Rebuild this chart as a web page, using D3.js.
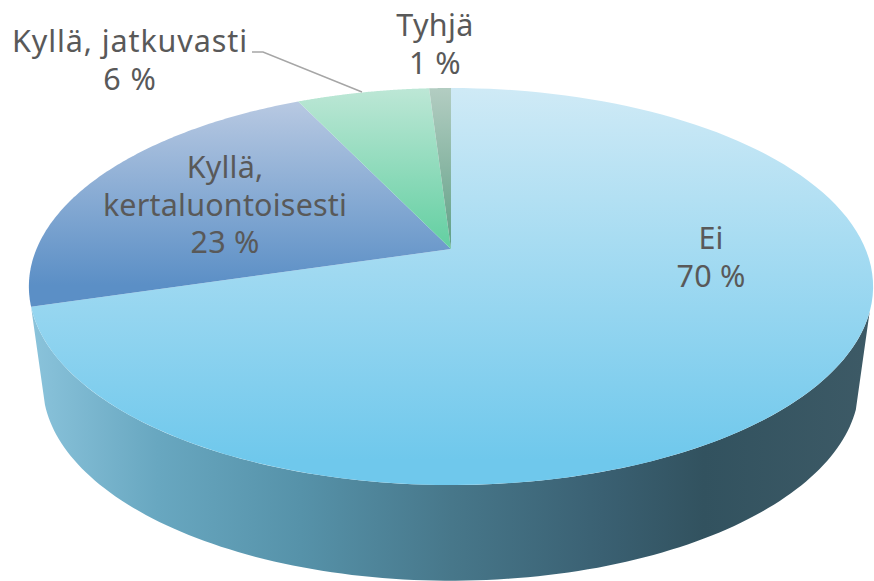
<!DOCTYPE html>
<html>
<head>
<meta charset="utf-8">
<script src="https://cdn.jsdelivr.net/npm/d3@7"></script>
<style>
  html, body { margin: 0; padding: 0; background: #fff; overflow: hidden; }
  text { font-family: "Noto Sans", sans-serif; font-size: 30.5px; fill: #595959; }
</style>
</head>
<body>
<div id="chart"></div>
<script>
const categories = ['Ei', 'Kyllä, kertaluontoisesti', 'Kyllä, jatkuvasti', 'Tyhjä'];
const values = [70.4, 22.5, 6.1, 1.0];

const width = 874;
const height = 581;

// label lines per slice, anchor is the baseline of the first line
const labelLines = [['Ei'], ['Kyllä,', 'kertaluontoisesti'], ['Kyllä, jatkuvasti'], ['Tyhjä']];
const labelAnchors = [[711, 249], [225, 178], [130, 52], [435, 36]];
const labelTracking = [0.2, 0.2, 0.9, 0.4];
const lineHeight = 37.5;

const topStops = [
  ['#cfeaf6', '#6fc8ec', 88, 460],
  ['#b8c9e2', '#5b8fc6', 101, 285],
  ['#bde7d6', '#62cfa1', 88, 249],
  ['#b3cdc2', '#5f9f85', 88, 249]
];

// pie is tilted with some perspective, so apex is not the ellipse centre
const tilt = 0.189;
const topDisc = { cx: 451, cy: 249, rx: 414.5, ry: 191.4 };
const bottomDisc = { cx: 451, cy: 347.7, rx: 400.8, ry: 189 };

function project(disc, angle, r = 1) {
  const u = Math.sin(angle) * r;
  const v = -Math.cos(angle) * r;
  const w = 1 - tilt * v;
  return [disc.cx + disc.rx * u / w, disc.cy + disc.ry * v / w];
}

function rim(disc, a0, a1, n = 120) {
  return d3.range(n + 1).map((i) => project(disc, a0 + (a1 - a0) * i / n));
}

const arcs = d3.pie().sort(null).value((d) => d)(values);
const line = d3.line();

const svg = d3.select('#chart')
  .append('svg')
  .attr('width', width)
  .attr('height', height);

const defs = svg.append('defs');

const wallGradient = defs.append('linearGradient')
  .attr('id', 'wall')
  .attr('gradientUnits', 'userSpaceOnUse')
  .attr('x1', 32).attr('x2', 872).attr('y1', 0).attr('y2', 0);

wallGradient.selectAll('stop')
  .data([
    [0, '#8ac3db'], [0.15, '#68a7c0'], [0.32, '#5692a9'], [0.5, '#47778a'],
    [0.68, '#3a6072'], [0.8, '#32525f'], [1, '#3d5a66']
  ])
  .join('stop')
  .attr('offset', (d) => d[0])
  .attr('stop-color', (d) => d[1]);

topStops.forEach((s, i) => {
  const g = defs.append('linearGradient')
    .attr('id', `slice${i}`)
    .attr('gradientUnits', 'userSpaceOnUse')
    .attr('x1', 0).attr('x2', 0).attr('y1', s[2]).attr('y2', s[3]);
  g.append('stop').attr('offset', 0).attr('stop-color', s[0]);
  g.append('stop').attr('offset', 1).attr('stop-color', s[1]);
});

// side wall, only the part below the front of the blue slice is visible
const wallStart = (108 * Math.PI) / 180;
const wallEnd = arcs[0].endAngle;
svg.append('path')
  .attr('d', `${line([
    ...rim(topDisc, wallStart, wallEnd),
    ...rim(bottomDisc, wallEnd, wallStart)
  ])}Z`)
  .attr('fill', 'url(#wall)');

svg.append('g')
  .selectAll('path')
  .data(arcs)
  .join('path')
  .attr('d', (d) => `${line([[topDisc.cx, topDisc.cy], ...rim(topDisc, d.startAngle, d.endAngle)])}Z`)
  .attr('fill', (d, i) => `url(#slice${i})`);

// leader line for the small slice
svg.append('path')
  .attr('d', line([[252, 52], [263, 52], [362, 92]]))
  .attr('fill', 'none')
  .attr('stroke', '#a6a6a6')
  .attr('stroke-width', 1.5);

const labels = svg.append('g')
  .selectAll('text')
  .data(arcs)
  .join('text')
  .attr('text-anchor', 'middle')
  .attr('letter-spacing', (d, i) => labelTracking[i])
  .attr('transform', (d, i) => `translate(${labelAnchors[i]})`);

labels.selectAll('tspan')
  .data((d, i) => [...labelLines[i], `${Math.round(d.value)} %`])
  .join('tspan')
  .attr('x', 0)
  .attr('y', (d, i) => i * lineHeight)
  .text((d) => d);
</script>
</body>
</html>
